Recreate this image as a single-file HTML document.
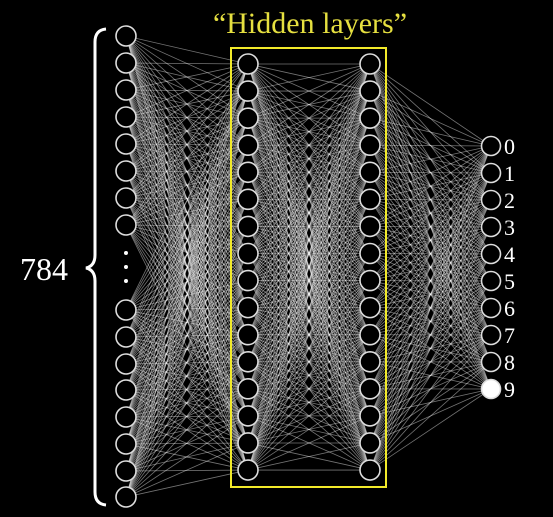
<!DOCTYPE html>
<html><head><meta charset="utf-8"><style>
html,body{margin:0;padding:0;background:#000;}
svg{display:block;}
</style></head><body>
<svg id="net" width="553" height="517" viewBox="0 0 553 517" xmlns="http://www.w3.org/2000/svg">
<rect width="553" height="517" fill="#000"/>
<g id="edges"></g>
<g id="nodes"></g>
<rect x="231" y="48" width="155" height="439" fill="none" stroke="#f2ea2a" stroke-width="2"/>
<text x="310" y="33" text-anchor="middle" font-family="Liberation Serif, serif" font-size="30" fill="#e6e040">“Hidden layers”</text>
<text x="44" y="280" text-anchor="middle" font-family="Liberation Serif, serif" font-size="32" fill="#fff">784</text>
<path d="M106,29 Q95,30 95,42 L95,255 Q95,266 86,268 Q95,270 95,281 L95,492 Q95,504 106,505" fill="none" stroke="#fff" stroke-width="3"/>
<g id="dots">
<circle cx="126" cy="253" r="2" fill="#fff"/><circle cx="126" cy="267" r="2" fill="#fff"/><circle cx="126" cy="281" r="2" fill="#fff"/>
</g>
<g id="labels"></g>
</svg>
<script>
const layerX = [126, 248, 370, 491];
const inputY = [36,63,90,117,144,171,198,225,310,337,364,390,417,444,471,497];
const hiddenCount = 16;
const outputLabels = ["0","1","2","3","4","5","6","7","8","9"];
const activeOutput = 9;
const NS = "http://www.w3.org/2000/svg";
function layerYs(n, top, step){const a=[];for(let i=0;i<n;i++)a.push(top+i*step);return a;}
const layers = [inputY, layerYs(hiddenCount,64,27.07), layerYs(hiddenCount,64,27.07), layerYs(outputLabels.length,146,27)];
const eg = document.getElementById('edges');
for(let l=0;l<3;l++){
  for(const y1 of layers[l]) for(const y2 of layers[l+1]){
    const ln=document.createElementNS(NS,'line');
    
    
    ln.setAttribute('x1',layerX[l]);ln.setAttribute('y1',y1);
    ln.setAttribute('x2',layerX[l+1]);ln.setAttribute('y2',y2);
    ln.setAttribute('stroke','#fff');ln.setAttribute('stroke-opacity','0.45');ln.setAttribute('stroke-width','0.8');
    eg.appendChild(ln);
  }
}
const ng=document.getElementById('nodes');
layers.forEach((ys,l)=>{
  ys.forEach((y,i)=>{
    const c=document.createElementNS(NS,'circle');
    
    
    c.setAttribute('cx',layerX[l]);c.setAttribute('cy',y);c.setAttribute('r',l===3?9.5:10);
    const act = (l===3 && i===activeOutput);
    c.setAttribute('fill',act?'#fff':'#000');
    c.setAttribute('stroke','#ddd');c.setAttribute('stroke-width','1.6');
    ng.appendChild(c);
  });
});
const lg=document.getElementById('labels');
outputLabels.forEach((t,i)=>{
  const tx=document.createElementNS(NS,'text');
  
  
  tx.setAttribute('x',504);tx.setAttribute('y',layers[3][i]+8);
  tx.setAttribute('font-family','Liberation Serif, serif');tx.setAttribute('font-size','22');tx.setAttribute('fill','#fff');
  tx.textContent=t;
  lg.appendChild(tx);
});
</script>
</body></html>
